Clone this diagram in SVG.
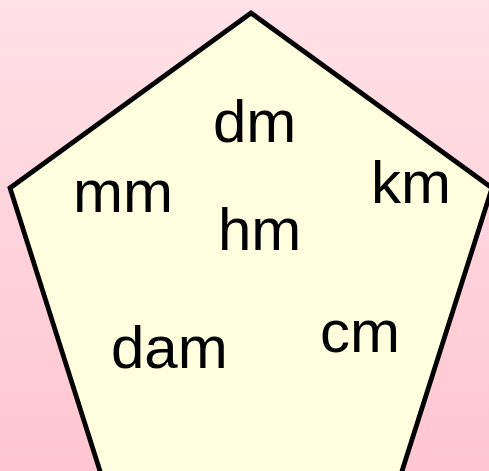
<svg xmlns="http://www.w3.org/2000/svg" width="489" height="471" viewBox="0 0 489 471">
  <defs>
    <linearGradient id="bg" x1="0" y1="0" x2="0" y2="1">
      <stop offset="0" stop-color="#FFE1E7"/>
      <stop offset="1" stop-color="#FFC6D1"/>
    </linearGradient>
    <style>
      .lbl { font-family: "Liberation Sans", Arial, sans-serif; font-size: 60px; fill: #000000; }
      .pent { fill: #FFFFE0; stroke: #000000; stroke-width: 4.8; stroke-linejoin: miter; }
    </style>
  </defs>
  <rect x="0" y="0" width="489" height="471" fill="url(#bg)"/>
  <g id="pentagon">
    <polygon class="pent" points="251,13 492,188 399.8,478 102.2,478 10,188"/>
  </g>
  <g id="labels">
    <g id="node-dm"><text class="lbl" x="213" y="142">dm</text></g>
    <g id="node-mm"><text class="lbl" x="73" y="212">mm</text></g>
    <g id="node-hm"><text class="lbl" x="218" y="250">hm</text></g>
    <g id="node-km"><text class="lbl" x="371" y="203">km</text></g>
    <g id="node-dam"><text class="lbl" x="111" y="368">dam</text></g>
    <g id="node-cm"><text class="lbl" x="320" y="352">cm</text></g>
  </g>
  <g id="connectors"></g>
</svg>
